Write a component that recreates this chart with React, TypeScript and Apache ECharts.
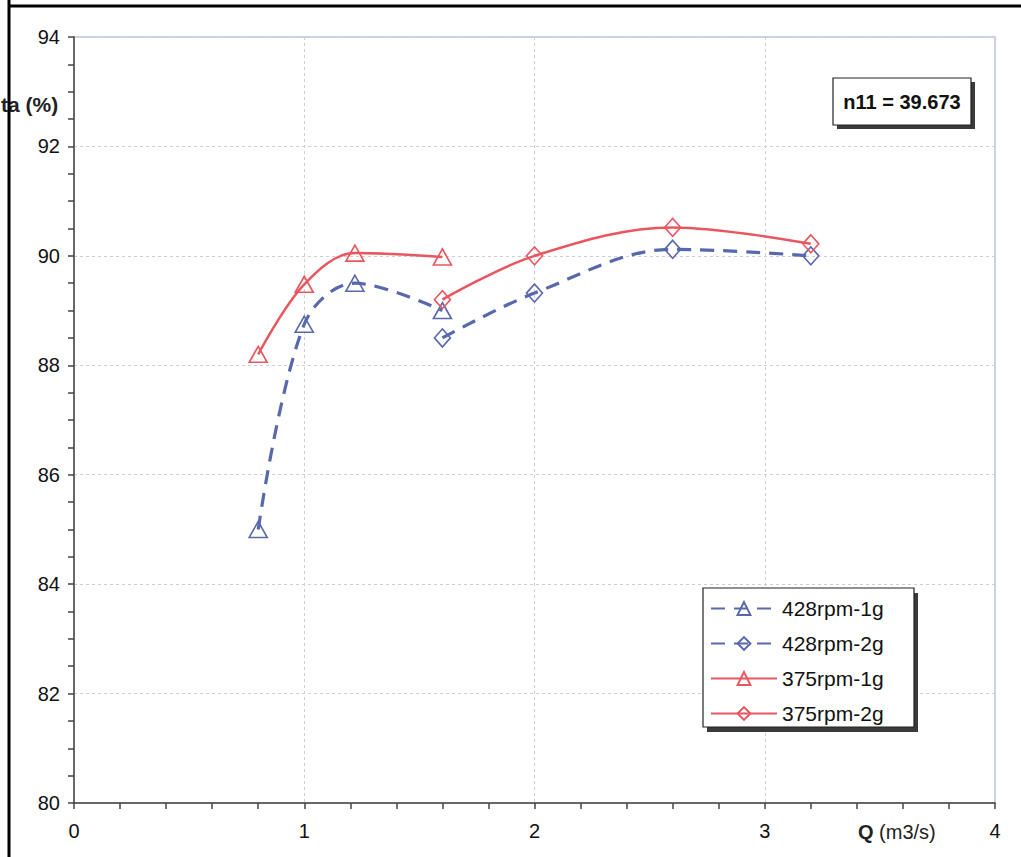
import React, { useEffect, useRef } from "react";
import * as echarts from "echarts";

const xTicks = [0, 1, 2, 3, 4];
const yTicks = [80, 82, 84, 86, 88, 90, 92, 94];

const q428_1g = [0.8, 1.0, 1.22, 1.6];
const eta428_1g = [85.0, 88.75, 89.5, 89.0];
const q428_2g = [1.6, 2.0, 2.6, 3.2];
const eta428_2g = [88.5, 89.32, 90.12, 90.0];
const q375_1g = [0.8, 1.0, 1.22, 1.6];
const eta375_1g = [88.2, 89.48, 90.05, 89.98];
const q375_2g = [1.6, 2.0, 2.6, 3.2];
const eta375_2g = [89.2, 90.0, 90.52, 90.22];

const seriesNames = ["428rpm-1g", "428rpm-2g", "375rpm-1g", "375rpm-2g"];
const annotation = "n11 = 39.673";
const yName = "ta (%)";
const xNameBold = "Q";
const xNameRest = " (m3/s)";

const BLUE = "#5868ad";
const RED = "#ea5660";
const FONT = "Liberation Sans, Arial, sans-serif";

function pairs(xs: number[], ys: number[]) {
  return xs.map((x, i) => [x, ys[i]]);
}

export default function App() {
  const ref = useRef<HTMLDivElement>(null);
  useEffect(() => {
    document.body.style.margin = "0";
    const chart = echarts.init(ref.current!, undefined, { renderer: "svg" });
    const mk = (
      name: string,
      data: number[][],
      color: string,
      dashed: boolean,
      symbol: string,
      size: number[]
    ) => ({
      name,
      type: "line",
      data,
      smooth: 0.35,
      symbol,
      symbolSize: size,
      showSymbol: true,
      lineStyle: {
        color,
        width: dashed ? 3.2 : 2.5,
        type: dashed ? [14, 9] : "solid",
      },
      itemStyle: {
        color: "rgba(255,255,255,0)",
        borderColor: color,
        borderWidth: 1.6,
      },
      z: dashed ? 3 : 4,
    });
    chart.setOption({
      animation: false,
      backgroundColor: "#ffffff",
      grid: {
        left: 74,
        right: 26,
        top: 37,
        bottom: 54,
        show: true,
        borderColor: "#b9c4de",
        borderWidth: 1.5,
        backgroundColor: "transparent",
      },
      xAxis: {
        type: "value",
        min: xTicks[0],
        max: xTicks[xTicks.length - 1],
        interval: 1,
        axisLine: { show: true, lineStyle: { color: "#444", width: 1.5 } },
        axisTick: { show: true, length: 6, lineStyle: { color: "#444", width: 1.5 } },
        minorTick: { show: true, splitNumber: 5, length: 6, lineStyle: { color: "#444", width: 1.5 } },
        axisLabel: { fontFamily: FONT, fontSize: 20, color: "#111", margin: 18 },
        splitLine: { show: true, lineStyle: { color: "#cfcfcf", type: [3, 3] } },
      },
      yAxis: {
        type: "value",
        min: yTicks[0],
        max: yTicks[yTicks.length - 1],
        interval: 2,
        axisLine: { show: true, lineStyle: { color: "#444", width: 1.5 } },
        axisTick: { show: true, length: 6, lineStyle: { color: "#444", width: 1.5 } },
        minorTick: { show: true, splitNumber: 4, length: 6, lineStyle: { color: "#444", width: 1.5 } },
        axisLabel: { fontFamily: FONT, fontSize: 20, color: "#111", margin: 14 },
        splitLine: { show: true, lineStyle: { color: "#cfcfcf", type: [3, 3] } },
      },
      legend: {
        orient: "vertical",
        left: 710,
        top: 598,
        itemWidth: 66,
        itemHeight: 16,
        itemGap: 14,
        padding: 0,
        textStyle: { fontFamily: FONT, fontSize: 21, color: "#111", padding: [0, 0, 0, 0] },
        data: seriesNames,
        z: 10,
      },
      graphic: [
        { type: "line", shape: { x1: 9, y1: 0, x2: 9, y2: 857 }, style: { stroke: "#000", lineWidth: 3 }, z: 20 },
        { type: "line", shape: { x1: 9, y1: 6, x2: 1021, y2: 6 }, style: { stroke: "#000", lineWidth: 3 }, z: 20 },
        { type: "rect", shape: { x: 837, y: 82, width: 138, height: 47 }, style: { fill: "#3a3a3a" }, z: 5 },
        { type: "rect", shape: { x: 833, y: 78, width: 138, height: 47 }, style: { fill: "#fff", stroke: "#222", lineWidth: 1.2 }, z: 6 },
        {
          type: "text",
          x: 902,
          y: 102,
          style: { text: annotation, fontFamily: FONT, fontSize: 20, fontWeight: "bold", fill: "#111", align: "center", verticalAlign: "middle" },
          z: 7,
        },
        { type: "rect", shape: { x: 707, y: 593, width: 211, height: 139 }, style: { fill: "#3a3a3a" }, z: 5 },
        { type: "rect", shape: { x: 703, y: 588, width: 211, height: 139 }, style: { fill: "#fff", stroke: "#222", lineWidth: 1.2 }, z: 6 },
        {
          type: "text",
          x: 1,
          y: 104,
          style: { text: yName, fontFamily: FONT, fontSize: 21, fontWeight: "bold", fill: "#222", align: "left", verticalAlign: "middle" },
          z: 7,
        },
        {
          type: "text",
          x: 858,
          y: 832,
          style: {
            text: `{b|${xNameBold}}{r|${xNameRest}}`,
            rich: {
              b: { fontFamily: FONT, fontSize: 20, fontWeight: "bold", fill: "#222" },
              r: { fontFamily: FONT, fontSize: 20, fill: "#222" },
            },
            align: "left",
            verticalAlign: "middle",
          },
          z: 7,
        },
      ],
      series: [
        mk(seriesNames[0], pairs(q428_1g, eta428_1g), BLUE, true, "triangle", [18, 16]),
        mk(seriesNames[1], pairs(q428_2g, eta428_2g), BLUE, true, "diamond", [16, 18]),
        mk(seriesNames[2], pairs(q375_1g, eta375_1g), RED, false, "triangle", [18, 16]),
        mk(seriesNames[3], pairs(q375_2g, eta375_2g), RED, false, "diamond", [16, 18]),
      ],
    });
    return () => chart.dispose();
  }, []);
  return <div ref={ref} style={{ width: 1021, height: 857 }} />;
}
